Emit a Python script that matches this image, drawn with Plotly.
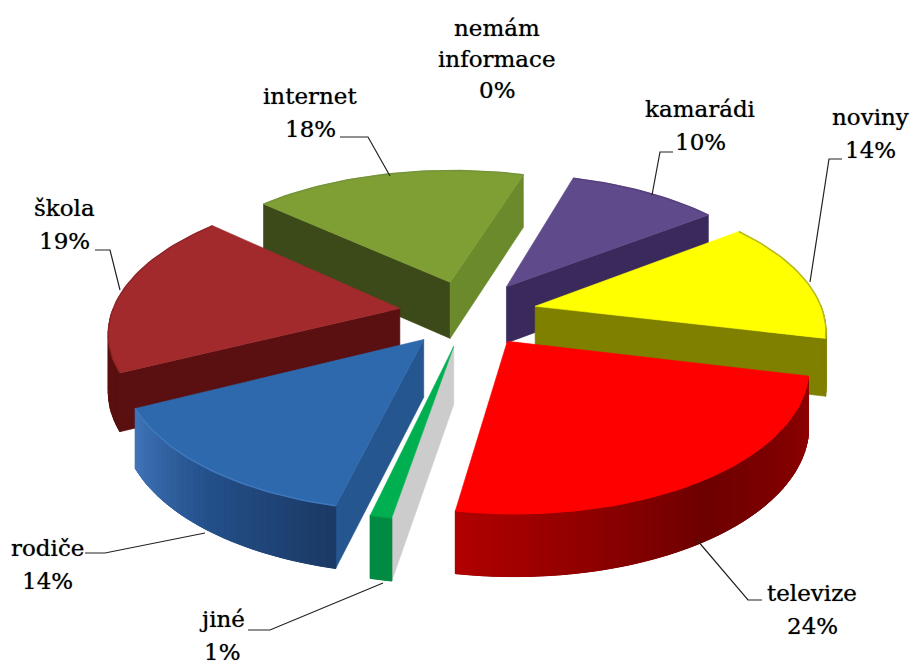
import math
import plotly.graph_objects as go

categories = ["televize", "jiné", "rodiče", "škola", "internet", "nemám informace", "kamarádi", "noviny"]
shares = [24, 1, 14, 19, 18, 0, 10, 14]

# styles, one entry per category
top_colors = ["#ff0000", "#00b050", "#2f69ad", "#a32a2c", "#7f9f35", "#000000", "#5f4a8b", "#ffff00"]
edge_colors = ["#ff0000", "#00a84c", "#3f78bd", "#8f2426", "#76953a", "#000000", "#56407f", "#b8b820"]
start_face = ["#800000", "#cccccc", "#25568f", "#5a1010", "#3b4a18", "#000000", "#3a2a5c", "#7f7f00"]
end_face = ["#800000", "#008040", "#25568f", "#5a1010", "#6b8a2c", "#000000", "#3a2a5c", "#7f7f00"]
rim_stops = [
    ["#900000", "#6e0000", "#b00000"],
    ["#008a42", "#008a42", "#008a42"],
    ["#1b3a66", "#24508a", "#3f74b8"],
    ["#5a1010", "#5a1010", "#7a1a1a"],
    ["#3b4a18", "#3b4a18", "#3b4a18"],
    ["#000000", "#000000", "#000000"],
    ["#3a2a5c", "#3a2a5c", "#3a2a5c"],
    ["#7f7f00", "#7f7f00", "#7f7f00"],
]

# pie geometry in page pixels
START_ANGLE = 103.3
CX, CY, R, TILT, PERSP, DEPTH, EXPLODE = 468, 313, 288, 0.476, 0.15, 57, 0.24


def project(x, y, z=0.0):
    s = 1 / (1 + PERSP * y)
    return CX + R * x * s, CY - R * TILT * y * s + DEPTH * z * s ** 0.5


def hex_mix(c1, c2, t):
    a = [int(c1[i:i + 2], 16) for i in (1, 3, 5)]
    b = [int(c2[i:i + 2], 16) for i in (1, 3, 5)]
    return "#%02x%02x%02x" % tuple(round(p + (q - p) * t) for p, q in zip(a, b))


def stop_color(stops, t):
    return hex_mix(stops[0], stops[1], t * 2) if t < 0.5 else hex_mix(stops[1], stops[2], t * 2 - 1)


fig = go.Figure()


def poly(points, color, width=0.6):
    xs = [p[0] for p in points] + [points[0][0]]
    ys = [p[1] for p in points] + [points[0][1]]
    fig.add_trace(go.Scatter(x=xs, y=ys, mode="lines", fill="toself", fillcolor=color,
                             line=dict(color=color, width=width), hoverinfo="skip", showlegend=False))


# build wedges from the shares
wedges = []
angle = START_ANGLE
total = sum(shares)
for i, v in enumerate(shares):
    sweep = 360 * v / total
    wedges.append((i, angle, angle + sweep))
    angle += sweep

order = sorted([w for w in wedges if shares[w[0]] > 0],
               key=lambda w: -math.cos(math.radians((w[1] + w[2]) / 2)))

for i, a0, a1 in order:
    mid = math.radians((a0 + a1) / 2)
    ox, oy = EXPLODE * math.sin(mid), EXPLODE * math.cos(mid)
    n = max(2, int((a1 - a0) / 1.5))
    angs = [a0 + (a1 - a0) * j / n for j in range(n + 1)]
    world = [(ox + math.sin(math.radians(t)), oy + math.cos(math.radians(t))) for t in angs]
    apex = project(ox, oy)
    apex_low = project(ox, oy, 1)
    top = [project(*w) for w in world]
    low = [project(*w, 1) for w in world]
    centroid = top[n // 2]

    # radial faces
    for pt, ptl, col, sign in ((top[0], low[0], start_face[i], 1), (top[-1], low[-1], end_face[i], -1)):
        dx, dy = pt[0] - apex[0], pt[1] - apex[1]
        nx, ny = -dy * sign, dx * sign
        if (centroid[0] - apex[0]) * nx + (centroid[1] - apex[1]) * ny > 0:
            nx, ny = -nx, -ny
        if ny > 0:
            poly([apex, pt, ptl, apex_low], col)

    # outer rim, only where it faces the viewer
    visible = [j for j in range(n) if math.cos(math.radians((angs[j] + angs[j + 1]) / 2)) < 0.0]
    if visible:
        base = [top[j] for j in visible] + [top[visible[-1] + 1], low[visible[-1] + 1]] + [low[j] for j in reversed(visible)]
        poly(base, stop_color(rim_stops[i], 0.5))
    for j in visible:
        t = j / max(1, n - 1)
        poly([top[j], top[j + 1], low[j + 1], low[j]], stop_color(rim_stops[i], t), 1.0)

    # top
    poly([apex] + top, top_colors[i])
    fig.add_trace(go.Scatter(x=[p[0] for p in top], y=[p[1] for p in top], mode="lines",
                             line=dict(color=edge_colors[i], width=1.5), hoverinfo="skip", showlegend=False))

# labels: centre x, first-line y
label_pos = {
    "televize": (812, 593), "jiné": (222, 619), "rodiče": (47, 548), "škola": (64, 208),
    "internet": (310, 96), "nemám informace": (497, 28), "kamarádi": (700, 109), "noviny": (870, 117),
}
leaders = {
    "televize": [(762, 600), (748, 600), (697, 540)],
    "jiné": [(248, 630), (270, 630), (383, 583)],
    "rodiče": [(85, 553), (105, 553), (205, 533)],
    "škola": [(95, 250), (110, 250), (120, 290)],
    "internet": [(340, 137), (368, 137), (390, 176)],
    "kamarádi": [(673, 152), (660, 152), (652, 195)],
    "noviny": [(842, 159), (829, 159), (810, 282)],
}
for name, pts in leaders.items():
    fig.add_trace(go.Scatter(x=[p[0] for p in pts], y=[p[1] for p in pts], mode="lines",
                             line=dict(color="#222222", width=1.2), hoverinfo="skip", showlegend=False))

FONT = dict(family="DejaVu Serif", size=23, color="#000000", shadow="0 0 1px rgba(0,0,0,0.6)")
LINE = 33
for name, v in zip(categories, shares):
    x, y = label_pos[name]
    lines = name.split(" ") + [f"{v}%"]
    for k, txt in enumerate(lines):
        fig.add_annotation(x=x, y=y + LINE * k if len(lines) == 2 else y + 31 * k, text=txt, showarrow=False,
                           xanchor="center", yanchor="middle", font=FONT)

fig.update_layout(
    width=915, height=664, margin=dict(l=0, r=0, t=0, b=0),
    paper_bgcolor="white", plot_bgcolor="white", showlegend=False,
    xaxis=dict(range=[0, 915], visible=False, fixedrange=True),
    yaxis=dict(range=[664, 0], visible=False, fixedrange=True),
)
fig.write_html("out.html", config=dict(displayModeBar=False),
               post_script="document.body.style.margin='0';")
